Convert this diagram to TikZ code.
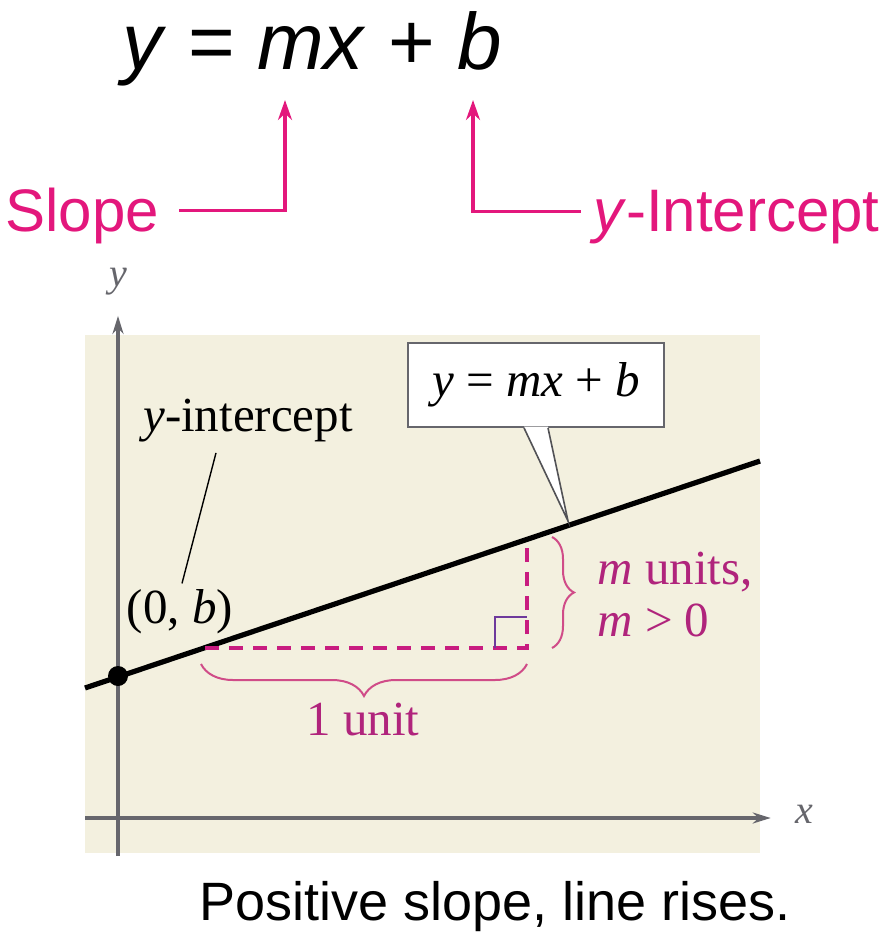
\documentclass[tikz,border=0pt]{standalone}
\usepackage{fontspec}
\setmainfont{Liberation Serif}
\newfontfamily\headsans{Liberation Sans}
\usetikzlibrary{arrows.meta,decorations.pathreplacing,positioning}

\definecolor{hotpink}{HTML}{E3177C}
\definecolor{plum}{HTML}{B0247C}
\definecolor{dashpink}{HTML}{C81C80}
\definecolor{bracepink}{HTML}{D04C88}
\definecolor{paper}{HTML}{F3F0DF}
\definecolor{axisgray}{HTML}{66666C}
\definecolor{stepviolet}{HTML}{6E3A9C}

\begin{document}
\begin{tikzpicture}[
  x=0.5pt, y=-0.5pt,
  >=Stealth,
  tag/.style={font=\headsans\fontsize{30}{36}\selectfont, text=hotpink, inner sep=0pt},
  pointer/.style={->, hotpink, line width=1.8pt, >={Stealth[length=10pt,width=7pt]}},
  axis/.style={->, axisgray, line width=1.6pt, >={Stealth[length=9pt,width=5.5pt]}},
  lbl/.style={font=\fontsize{24.5}{25}\selectfont, inner sep=0pt},
  mlbl/.style={lbl, text=plum},
  bracket/.style={decorate, decoration={brace, amplitude=#1}, bracepink, line width=1pt}
]
\useasboundingbox (0,0) rectangle (885,935);

% the formula and its two parts
\node[font=\headsans\fontsize{40}{48}\selectfont, inner sep=0pt, anchor=base] (eq) at (312,70)
  {\textit{y} = \textit{mx} + \textit{b}};
\node[tag, anchor=base west] (slope) at (5,232) {Slope};
\node[tag, anchor=base east] (yint) at (880,232) {\textit{y}-Intercept};
\coordinate (mxmark) at (285,100);
\coordinate (bmark) at (473,100);
\draw[pointer, shorten <=10pt] ([yshift=3pt]slope.east) -| (mxmark);
\draw[pointer, shorten <=6pt] ([yshift=3pt]yint.west) -| (bmark);

% plot area and axes
\fill[paper] (85,335) rectangle (760,853);
\node[lbl, text=axisgray, font=\fontsize{20}{24}\selectfont] (ylab) at (118,282) {\textit{y}};
\node[lbl, text=axisgray, font=\fontsize{20}{24}\selectfont] (xlab) at (804,814) {\textit{x}};
\coordinate (ybot) at (118,856);
\coordinate (xleft) at (85,818);
\draw[axis, shorten >=10pt] (ybot) -- (ylab);
\draw[axis, shorten >=12pt] (xleft) -- (xlab.west |- xleft);

% the line y = mx + b
\coordinate (lstart) at (85,688);
\coordinate (lend) at (760,461);
\draw[line width=2.6pt] (lstart) -- (lend);
\node[circle, fill, inner sep=0pt, minimum size=10pt] (dot) at (118,676) {};

% one unit across, m units up
\coordinate (run) at (205,648);
\coordinate (corner) at (527,648);
\coordinate (rise) at (527,540);
\draw[dashpink, line width=2pt, dash pattern=on 7pt off 5pt] (run) -- (corner) -- (rise);
\draw[stepviolet, line width=1.1pt] (495,648) -- (495,617) -- (527,617);

\draw[bracket=16pt] (527,664) -- (201,664);
\node[mlbl] (oneunit) at (363,720) {1 unit};
\draw[bracket=11pt] (552,537) -- (552,648);
\node[mlbl, anchor=base west] (munits) at (597,584) {\textit{m} units,};
\node[mlbl, anchor=base west] (mpos) at (597,636) {\textit{m} > 0};

% labels
\node[lbl] (yintlbl) at (248,421) {\textit{y}-intercept};
\node[lbl] (pointlbl) at (180,612) {(0, \textit{b})};
\draw[line width=0.7pt] ([xshift=-16pt,yshift=-5pt]yintlbl.south) -- ([xshift=1pt,yshift=3pt]pointlbl.north);

% callout box
\node[lbl, draw=axisgray, fill=white, line width=0.9pt, minimum width=128pt, minimum height=42pt] (eqbox) at (536,385)
  {\textit{y} = \textit{mx} + \textit{b}};
\coordinate (tip) at (568,521);
\fill[white] ([xshift=-6pt,yshift=0.7pt]eqbox.south) -- (tip) -- ([xshift=6pt,yshift=0.7pt]eqbox.south) -- cycle;
\draw[axisgray!80!black, line width=0.8pt] ([xshift=-6pt]eqbox.south) -- (tip) -- ([xshift=6pt]eqbox.south);

% caption
\node[font=\headsans\fontsize{27}{32}\selectfont, inner sep=0pt, anchor=base] (caption) at (495,920)
  {Positive slope, line rises.};
\end{tikzpicture}
\end{document}
